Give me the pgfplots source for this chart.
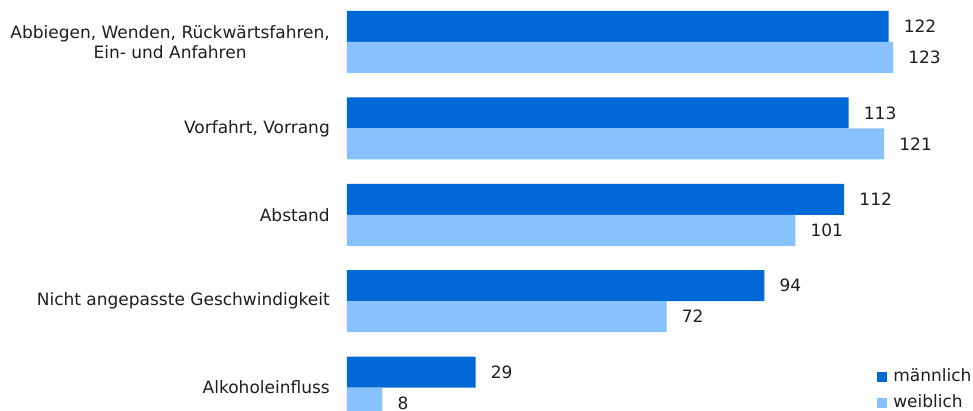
\documentclass[border=0pt]{standalone}
\usepackage{pgfplots}
\pgfplotsset{compat=1.18}
\usepackage{fontspec}
\setmainfont{DejaVu Sans}
\definecolor{dunkel}{HTML}{0068D7}
\definecolor{hell}{HTML}{88C1FF}
\definecolor{schrift}{HTML}{1E1E1E}
\begin{document}
\fontsize{17bp}{20bp}\selectfont
\begin{tikzpicture}
\begin{axis}[
    x=4.44bp, y=86.4bp,
    xbar, bar width=31bp,
    xmin=0, xmax=141, ymin=-0.27, ymax=4.49,
    clip=false,
    axis line style={draw=none},
    major tick length=0pt,
    xtick=\empty,
    ytick={0,1,2,3,4},
    yticklabels={Alkoholeinfluss, Nicht angepasste Geschwindigkeit, Abstand, {Vorfahrt, Vorrang}, {Abbiegen, Wenden, Rückwärtsfahren,\\Ein- und Anfahren}},
    yticklabel style={align=center, anchor=east, inner sep=0pt, xshift=-17bp, text=schrift, font=\fontsize{17bp}{20bp}\selectfont},
    nodes near coords,
    /pgf/number format/assume math mode=true,
    every node near coord/.append style={anchor=west, inner sep=0pt, xshift=15bp, text=schrift, font=\fontsize{17bp}{20bp}\selectfont},
    legend image code/.code={\fill[#1] (0bp,-5bp) rectangle (10bp,5bp);},
    legend style={at={(axis cs:119.4,0.2)}, anchor=north west, draw=none, fill=none, inner sep=0pt,
        font=\fontsize{17bp}{20bp}\selectfont, text=schrift, row sep=12bp,
        nodes={inner sep=0pt, outer sep=0pt, text height=11bp, text depth=3bp},
        /tikz/every odd column/.append style={column sep=6bp}},
    legend cell align=left,
]
\addplot[fill=dunkel, draw=none, bar shift=15.5bp] coordinates {(29,0) (94,1) (112,2) (113,3) (122,4)};
\addlegendentry{männlich}
\addplot[fill=hell, draw=none, bar shift=-15.5bp] coordinates {(8,0) (72,1) (101,2) (121,3) (123,4)};
\addlegendentry{weiblich}
\coordinate (tl) at (axis cs:-78.15,4.486);
\coordinate (br) at (axis cs:141,-0.271);
\end{axis}
\pgfresetboundingbox
\path (tl) rectangle (br);
\end{tikzpicture}
\end{document}
